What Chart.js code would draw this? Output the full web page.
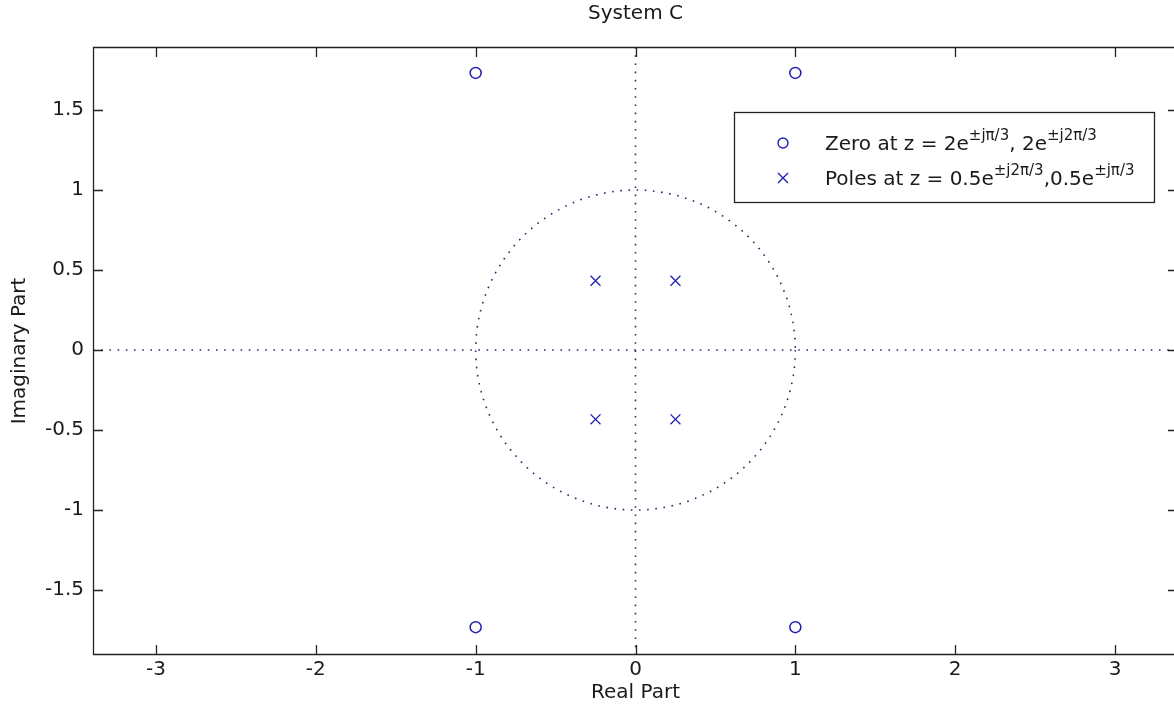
<!DOCTYPE html>
<html>
<head>
<meta charset="utf-8">
<script src="https://cdn.jsdelivr.net/npm/chart.js@4.4.1/dist/chart.umd.min.js"></script>
<style>
  html, body { margin: 0; padding: 0; background: #fff; overflow: hidden; }
  #wrap { position: absolute; left: 0; top: 0; width: 1200px; height: 719px; }
</style>
</head>
<body>
<div id="wrap"><canvas id="myChart" width="1200" height="719"></canvas></div>
<script>
const ctx = document.getElementById("myChart").getContext("2d");

// zeros and poles (real, imaginary)
const zeroRe = [1, 1, -1, -1];
const zeroIm = [1.732, -1.732, 1.732, -1.732];
const poleRe = [-0.25, -0.25, 0.25, 0.25];
const poleIm = [0.433, -0.433, 0.433, -0.433];

const xTicks = [-3, -2, -1, 0, 1, 2, 3];
const yTicks = [-1.5, -1, -0.5, 0, 0.5, 1, 1.5];
const xRange = [-3.394, 3.394];
const yRange = [-1.906, 1.894];

const BLUE = "#2020b0";
const DOT = "#2a2a70";
const TXT = "#1a1a1a";
const FONT = "'DejaVu Sans', Verdana, sans-serif";

// frame, inward ticks, dotted axes and unit circle
const framePlugin = {
  id: "frame",
  beforeDatasetsDraw(chart) {
    const { ctx, chartArea: a, scales } = chart;
    const sx = scales.x, sy = scales.y;
    ctx.save();
    ctx.strokeStyle = DOT;
    ctx.lineWidth = 1.6;
    ctx.setLineDash([1.6, 6.6]);
    const x0 = sx.getPixelForValue(0), y0 = sy.getPixelForValue(0);
    ctx.beginPath();
    ctx.moveTo(a.left, y0); ctx.lineTo(a.right, y0);
    ctx.moveTo(x0, a.top); ctx.lineTo(x0, a.bottom);
    ctx.stroke();
    const rx = sx.getPixelForValue(1) - x0;
    const ry = y0 - sy.getPixelForValue(1);
    ctx.beginPath();
    ctx.ellipse(x0, y0, rx, ry, 0, 0, Math.PI * 2);
    ctx.stroke();
    ctx.restore();
  },
  afterDatasetsDraw(chart) {
    const { ctx, chartArea: a, scales } = chart;
    ctx.save();
    ctx.strokeStyle = "#222";
    ctx.lineWidth = 1.3;
    ctx.beginPath();
    ctx.rect(a.left + 0.5, a.top + 0.5, a.right - a.left - 1, a.bottom - a.top - 1);
    ctx.stroke();
    const tl = 10;
    ctx.beginPath();
    xTicks.forEach(v => {
      const p = Math.round(scales.x.getPixelForValue(v)) + 0.5;
      ctx.moveTo(p, a.bottom); ctx.lineTo(p, a.bottom - tl);
      ctx.moveTo(p, a.top); ctx.lineTo(p, a.top + tl);
    });
    yTicks.forEach(v => {
      const p = Math.round(scales.y.getPixelForValue(v)) + 0.5;
      ctx.moveTo(a.left, p); ctx.lineTo(a.left + tl, p);
      ctx.moveTo(a.right, p); ctx.lineTo(a.right - tl, p);
    });
    ctx.stroke();

    // title
    ctx.fillStyle = TXT;
    ctx.font = "20px " + FONT;
    ctx.textAlign = "center";
    ctx.textBaseline = "middle";
    ctx.fillText("System C", (a.left + a.right) / 2, 14);

    // legend
    const bx = 734, by = 112, bw = 420, bh = 90;
    ctx.fillStyle = "#fff";
    ctx.fillRect(bx, by, bw, bh);
    ctx.lineWidth = 1.3;
    ctx.strokeStyle = "#222";
    ctx.strokeRect(bx + 0.5, by + 0.5, bw, bh);
    const rows = [
      { y: 143, parts: [["Zero at z = 2e", 0], ["\u00b1j\u03c0/3", 1], [", 2e", 0], ["\u00b1j2\u03c0/3", 1]] },
      { y: 178, parts: [["Poles at z = 0.5e", 0], ["\u00b1j2\u03c0/3", 1], [",0.5e", 0], ["\u00b1j\u03c0/3", 1]] }
    ];
    ctx.strokeStyle = BLUE;
    ctx.lineWidth = 1.4;
    ctx.beginPath();
    ctx.arc(783, rows[0].y, 5, 0, Math.PI * 2);
    ctx.stroke();
    ctx.beginPath();
    ctx.moveTo(778, rows[1].y - 5); ctx.lineTo(788, rows[1].y + 5);
    ctx.moveTo(788, rows[1].y - 5); ctx.lineTo(778, rows[1].y + 5);
    ctx.stroke();
    ctx.fillStyle = TXT;
    ctx.textAlign = "left";
    ctx.textBaseline = "alphabetic";
    rows.forEach(r => {
      let x = 825;
      r.parts.forEach(([t, sup]) => {
        ctx.font = (sup ? "15px " : "20px ") + FONT;
        ctx.fillText(t, x, r.y + 7 - (sup ? 10 : 0));
        x += ctx.measureText(t).width;
      });
    });
    ctx.restore();
  }
};

const data = {
  datasets: [
    {
      label: "Zeros",
      data: zeroRe.map((v, i) => ({ x: v, y: zeroIm[i] })),
      pointStyle: "circle",
      pointRadius: 5.5,
      pointBorderWidth: 1.5,
      pointBorderColor: BLUE,
      pointBackgroundColor: "rgba(0,0,0,0)",
      showLine: false
    },
    {
      label: "Poles",
      data: poleRe.map((v, i) => ({ x: v, y: poleIm[i] })),
      pointStyle: "crossRot",
      pointRadius: 7,
      pointBorderWidth: 1.3,
      pointBorderColor: BLUE,
      showLine: false
    }
  ]
};

const config = {
  type: "scatter",
  data: data,
  plugins: [framePlugin],
  options: {
    responsive: false,
    animation: false,
    events: [],
    layout: { padding: { top: 47, right: 22, left: 0, bottom: 0 } },
    plugins: {
      legend: { display: false },
      title: { display: false },
      tooltip: { enabled: false }
    },
    scales: {
      x: {
        type: "linear",
        position: "bottom",
        min: xRange[0],
        max: xRange[1],
        afterBuildTicks: s => { s.ticks = xTicks.map(v => ({ value: v })); },
        afterFit: s => { s.height = 64; },
        grid: { display: false, drawTicks: false },
        border: { display: false },
        ticks: {
          color: TXT,
          font: { family: FONT, size: 20 },
          padding: 3,
          maxRotation: 0,
          callback: v => String(v)
        },
        title: {
          display: true,
          text: "Real Part",
          color: TXT,
          font: { family: FONT, size: 20 },
          padding: { top: 0, bottom: 14 }
        }
      },
      y: {
        type: "linear",
        position: "left",
        min: yRange[0],
        max: yRange[1],
        afterBuildTicks: s => { s.ticks = yTicks.map(v => ({ value: v })); },
        afterFit: s => { s.width = 93; },
        grid: { display: false, drawTicks: false },
        border: { display: false },
        ticks: {
          color: TXT,
          font: { family: FONT, size: 20 },
          padding: 9,
          callback: v => String(v)
        },
        title: {
          display: true,
          text: "Imaginary Part",
          color: TXT,
          font: { family: FONT, size: 20 },
          padding: { top: 8, bottom: 0 }
        }
      }
    }
  }
};

new Chart(ctx, config);
</script>
</body>
</html>
